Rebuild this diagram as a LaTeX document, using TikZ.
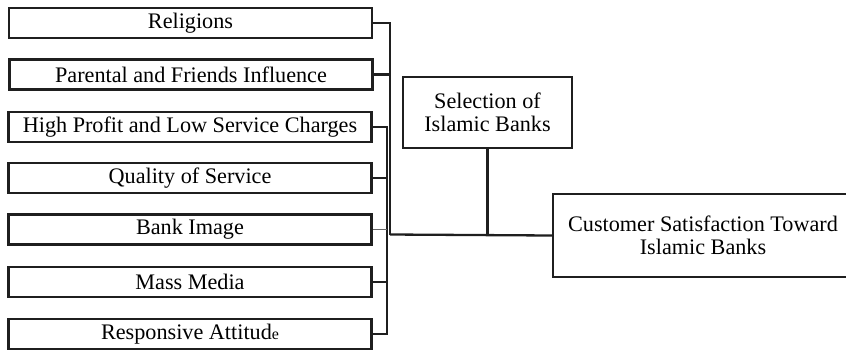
\documentclass[tikz,border=0pt]{standalone}
\usepackage{fontspec}
\setmainfont{Liberation Serif}
\begin{document}
\begin{tikzpicture}[x=0.5pt,y=-0.5pt,
  factor/.style={draw=black!88,line width=1.25pt,rectangle,minimum width=181.5pt,minimum height=15pt,inner sep=0pt,font=\fontsize{11.1}{12.5}\selectfont},
  bigbox/.style={draw=black!88,line width=1.25pt,rectangle,inner sep=0pt,align=center,font=\fontsize{11.1}{11.6}\selectfont},
  conn/.style={draw=black!88,line width=1.15pt},
  lightconn/.style={draw=black!60,line width=0.9pt}]
\clip (0,0) rectangle (846,349);
\node[factor] (rel) at (190.5,23) {Religions};
\node[factor] (par) at (191,74.5) {Parental and Friends Influence};
\node[factor] (hp) at (190,127) {High Profit and Low Service Charges};
\node[factor] (qos) at (190,178) {Quality of Service};
\node[factor] (bi) at (190,229.5) {Bank Image};
\node[factor] (mm) at (190,282) {Mass Media};
\node[factor] (ra) at (190,334) {Responsive Attitud{\fontsize{8}{9}\selectfont e}};
\node[bigbox,minimum width=84.5pt,minimum height=35.5pt] (sel) at (487.5,112.5) {Selection of\\Islamic Banks};
\node[bigbox,minimum width=150pt,minimum height=41.5pt] (cust) at (703,235.5) {Customer Satisfaction Toward\\Islamic Banks};
\coordinate (busA) at (390,0);
\coordinate (busB) at (387,0);
\coordinate (j) at (390,234.5);
% bus A
\draw[conn] (rel.east) -- (rel.east -| busA) -- (j);
\draw[conn] (par.east) -- (par.east -| busA);
% bus B
\draw[conn] (hp.east) -- (hp.east -| busB) -- (ra.east -| busB) -- (ra.east);
\draw[conn] (qos.east) -- (qos.east -| busB);
\draw[lightconn] (bi.east) -- (bi.east -| busB);
\draw[conn] (mm.east) -- (mm.east -| busB);
% main
\draw[conn] (j) -- (cust.west);
\draw[conn] (sel.south) -- (sel.south |- j);
\end{tikzpicture}
\end{document}
